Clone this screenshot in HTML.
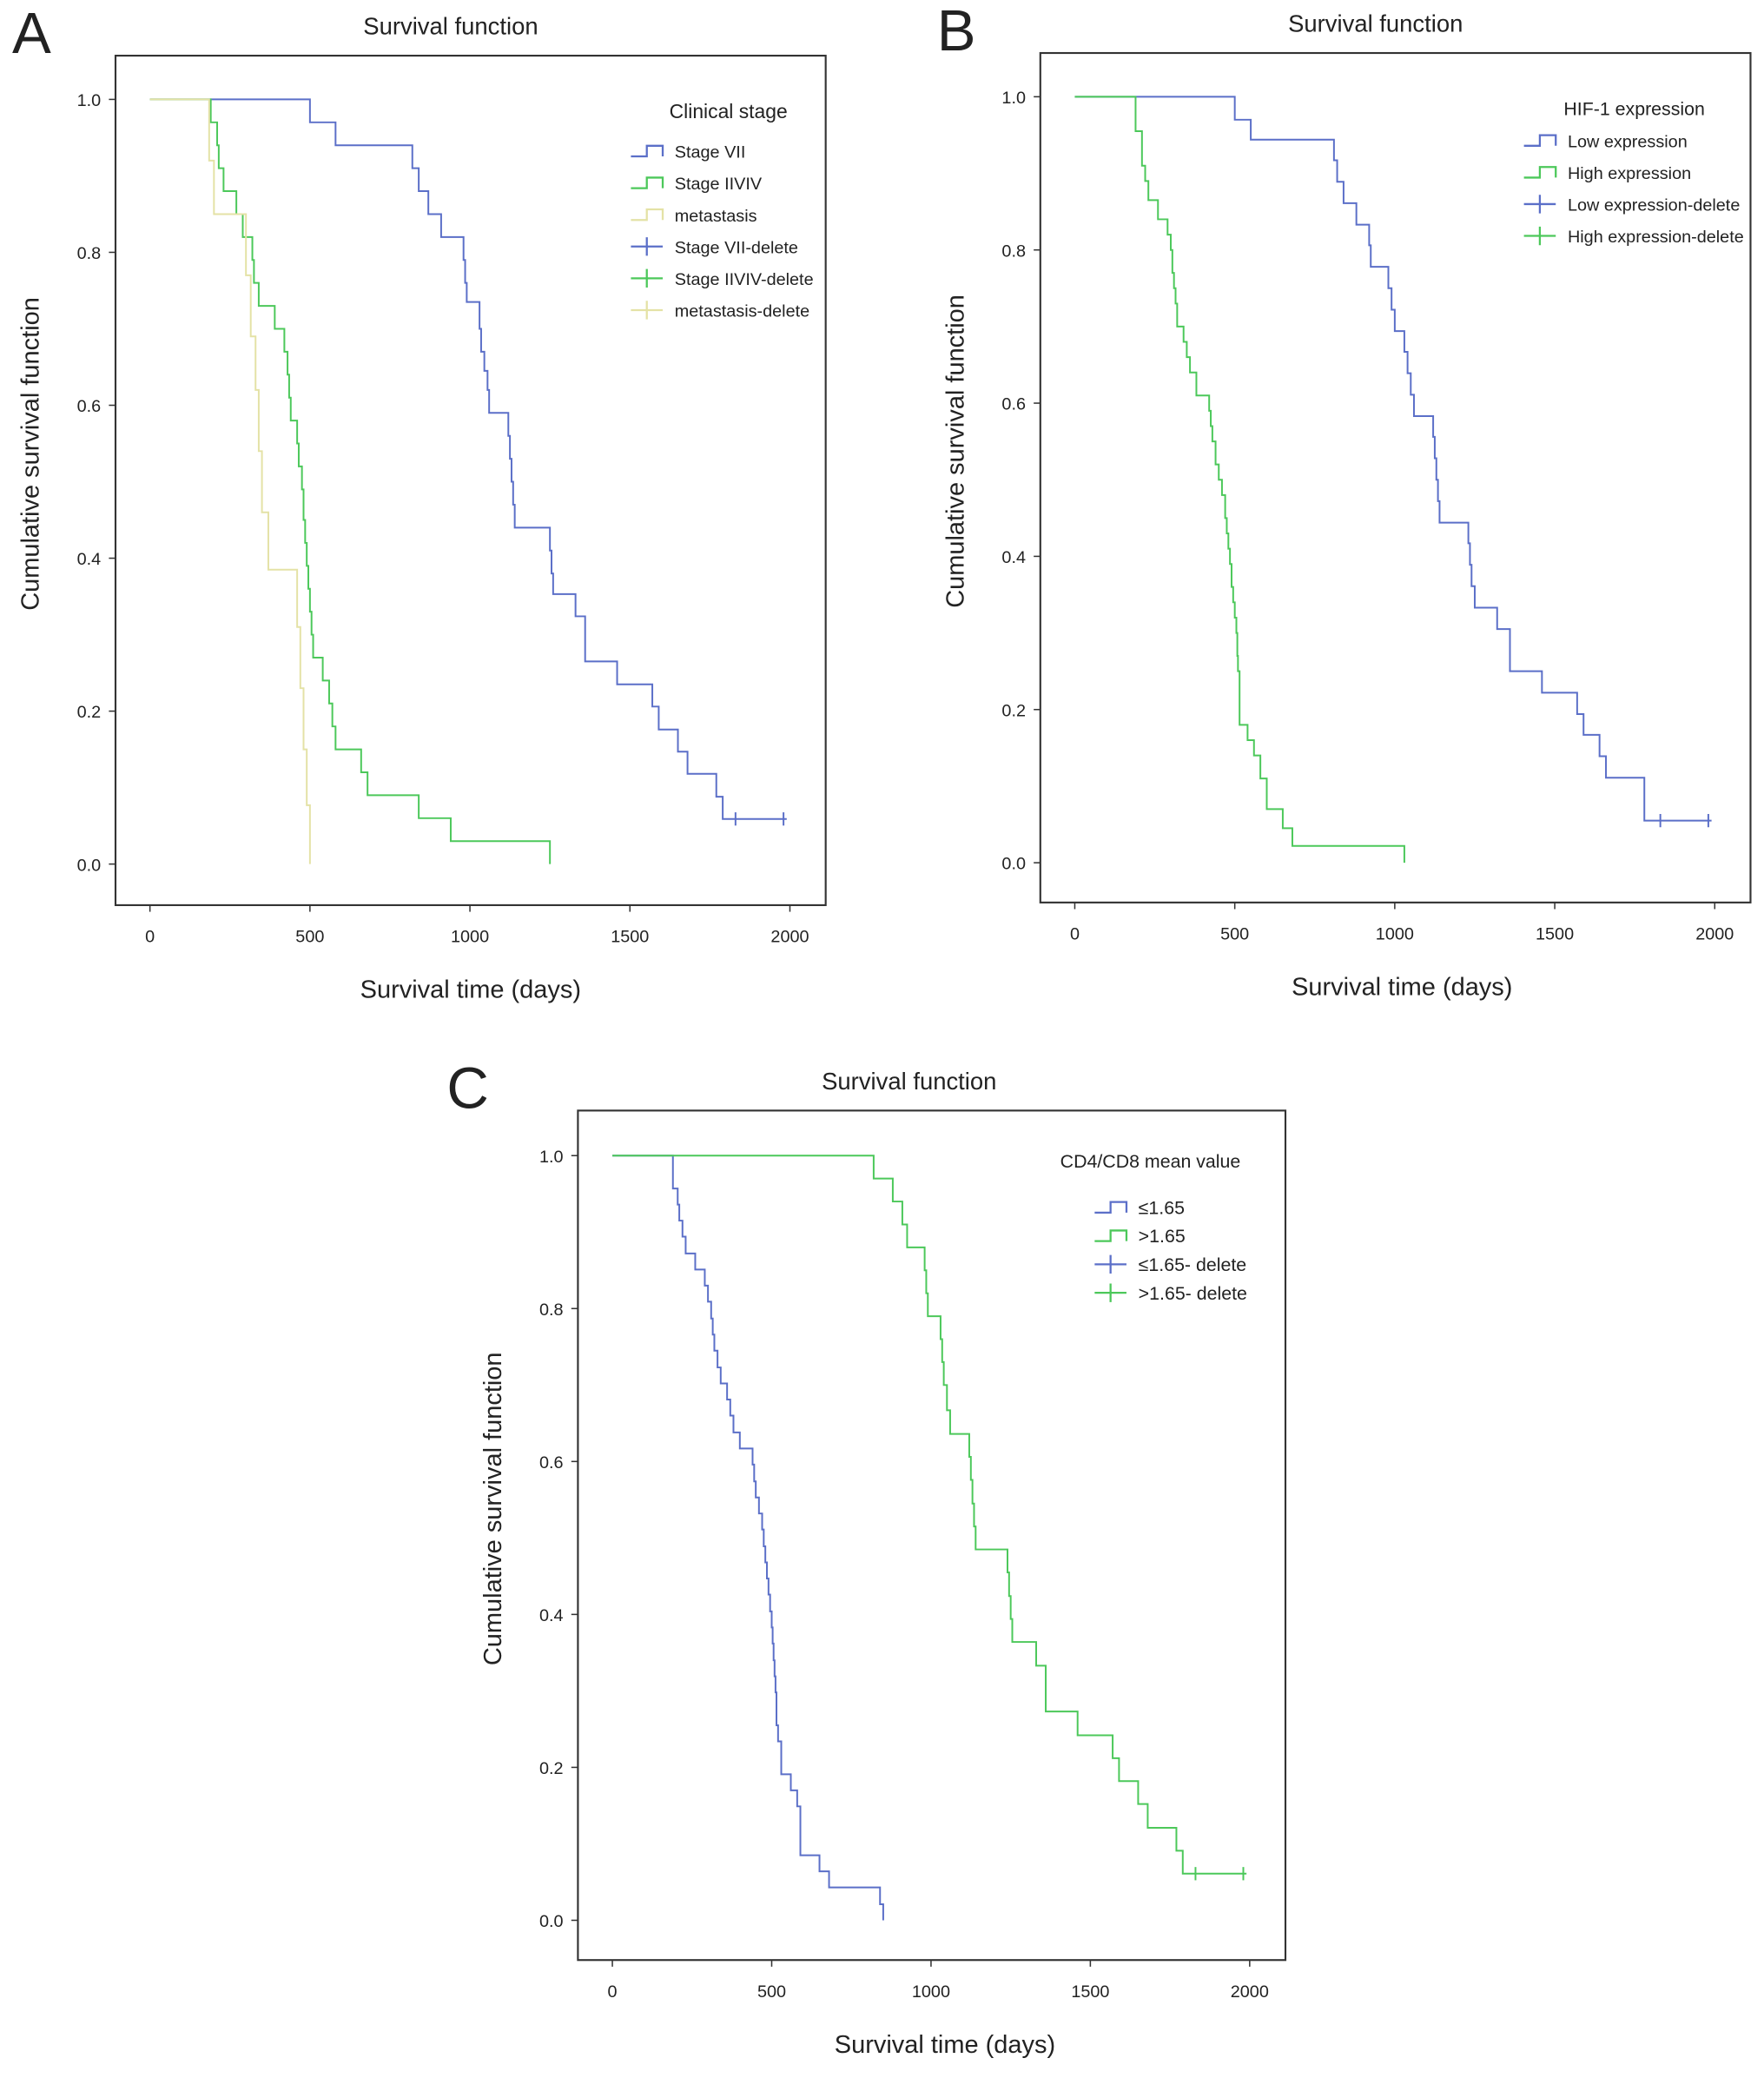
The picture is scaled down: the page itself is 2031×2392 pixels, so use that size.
<!DOCTYPE html>
<html><head><meta charset="utf-8"><style>
html,body{margin:0;padding:0;background:#fff}
svg{display:block}
text{font-family:"Liberation Sans",Arial,sans-serif;fill:#222}
</style></head><body>
<svg id="fig" width="2031" height="2392" viewBox="0 0 1331 1568" xmlns="http://www.w3.org/2000/svg"></svg>
<script>
// ---- Panel A data ----
const aStageVIITimes=[500,580,820,840,870,910,980,985,990,1030,1035,1045,1055,1060,1120,1125,1130,1135,1140,1250,1255,1260,1330,1360,1460,1570,1590,1650,1680,1770,1790];
const aStageVIISurv=[0.97,0.94,0.91,0.88,0.85,0.82,0.79,0.76,0.735,0.70,0.67,0.645,0.62,0.59,0.56,0.53,0.50,0.47,0.44,0.41,0.38,0.353,0.324,0.265,0.235,0.206,0.176,0.147,0.118,0.088,0.059];
const aStageVIIEnd=1990;
const aStageVIICens=[1830,1980];
const aStageIIVIVTimes=[190,210,215,230,270,290,320,325,340,390,420,430,435,440,460,465,475,480,485,490,495,500,505,510,540,560,570,580,660,680,840,940,1250];
const aStageIIVIVSurv=[0.97,0.94,0.91,0.88,0.85,0.82,0.79,0.76,0.73,0.70,0.67,0.64,0.61,0.58,0.55,0.52,0.49,0.45,0.42,0.39,0.36,0.33,0.30,0.27,0.24,0.21,0.18,0.15,0.12,0.09,0.06,0.03,0];
const aMetaTimes=[185,200,300,315,330,340,350,370,460,470,480,490,500];
const aMetaSurv=[0.92,0.85,0.77,0.69,0.62,0.54,0.46,0.385,0.31,0.23,0.15,0.077,0];
// ---- Panel B data ----
const bLowTimes=[500,550,810,820,840,880,920,925,980,990,1000,1030,1040,1050,1060,1120,1125,1130,1135,1140,1230,1235,1240,1250,1320,1360,1460,1570,1590,1640,1660,1780];
const bLowSurv=[0.97,0.944,0.917,0.889,0.861,0.833,0.806,0.778,0.75,0.722,0.694,0.667,0.639,0.611,0.583,0.556,0.528,0.50,0.472,0.444,0.417,0.389,0.361,0.333,0.305,0.25,0.222,0.194,0.167,0.139,0.111,0.055];
const bLowEnd=1990;
const bLowCens=[1830,1980];
const bHighTimes=[190,210,220,230,260,290,300,305,310,315,320,340,350,360,380,420,425,430,440,450,460,470,475,480,485,490,495,500,505,508,510,515,540,560,580,600,650,680,1030];
const bHighSurv=[0.955,0.91,0.89,0.865,0.84,0.82,0.80,0.77,0.75,0.73,0.70,0.68,0.66,0.64,0.61,0.59,0.57,0.55,0.52,0.50,0.48,0.45,0.43,0.41,0.39,0.36,0.34,0.32,0.30,0.27,0.25,0.18,0.16,0.14,0.11,0.07,0.045,0.022,0];
// ---- Panel C data ----
const cLowTimes=[190,205,210,220,230,260,290,300,310,315,320,330,340,360,370,380,400,440,445,450,460,470,475,480,485,490,495,500,503,506,509,512,515,520,530,560,580,590,650,680,840,850];
const cLowSurv=[0.957,0.936,0.915,0.894,0.872,0.851,0.830,0.809,0.787,0.766,0.745,0.723,0.702,0.681,0.660,0.638,0.617,0.596,0.574,0.553,0.532,0.511,0.489,0.468,0.447,0.426,0.404,0.383,0.362,0.340,0.319,0.298,0.255,0.234,0.191,0.170,0.149,0.085,0.064,0.043,0.021,0];
const cHighTimes=[820,880,910,925,980,985,990,1030,1035,1040,1050,1060,1120,1125,1130,1135,1140,1240,1245,1250,1255,1330,1360,1460,1570,1590,1650,1680,1770,1790];
const cHighSurv=[0.97,0.94,0.91,0.88,0.85,0.82,0.79,0.76,0.73,0.70,0.667,0.636,0.606,0.576,0.545,0.515,0.485,0.455,0.424,0.394,0.364,0.333,0.273,0.242,0.212,0.182,0.152,0.121,0.091,0.061];
const cHighEnd=1990;
const cHighCens=[1830,1980];
const xTicks=[0,500,1000,1500,2000];
const yTicks=[0,0.2,0.4,0.6,0.8,1.0];

const NS='http://www.w3.org/2000/svg';
const svg=document.getElementById('fig');
const BLUE='#5b6fc8',GREEN='#4cc85a',YEL='#e4e2a6';
function mk(tag,attrs,parent){const e=document.createElementNS(NS,tag);for(const k in attrs)e.setAttribute(k,attrs[k]);(parent||svg).appendChild(e);return e;}
function txt(x,y,s,size,anchor,parent,extra){const t=mk('text',Object.assign({x:x,y:y,'font-size':size,'text-anchor':anchor||'start'},extra||{}),parent);t.textContent=s;return t;}

function panel(p){
  const g=mk('g',{});
  
  
  const sx=v=>p.x0+(v/2000)*(p.x2000-p.x0);
  const sy=v=>p.y0-v*(p.y0-p.y1);
  const fr=mk('rect',{x:p.fl,y:p.ft,width:p.fr-p.fl,height:p.fb-p.ft,fill:'none',stroke:'#333','stroke-width':1.4},g);
  
  
  const lt=txt(p.fl-78+(p.letterDx||0),p.ft-2,p.letter,44,'start',g);
  
  
  const tt=txt((p.fl+p.fr)/2-(p.titleDx||0),p.ft-16,'Survival function',18,'middle',g);
  
  
  xTicks.forEach(v=>{
    mk('line',{x1:sx(v),x2:sx(v),y1:p.fb,y2:p.fb+5,stroke:'#333'},g);
    const t=txt(sx(v),p.fb+28,String(v),13,'middle',g);
    
    
  });
  yTicks.forEach(v=>{
    mk('line',{x1:p.fl-5,x2:p.fl,y1:sy(v),y2:sy(v),stroke:'#333'},g);
    const t=txt(p.fl-11,sy(v)+5,v.toFixed(1),13,'end',g);
    
    
  });
  const xl=txt((p.fl+p.fr)/2+p.xlDx,p.fb+70,'Survival time (days)',19,'middle',g);
  
  
  const yx=p.fl-58,yy=(p.ft+p.fb)/2-20;
  const yl=txt(yx,yy,'Cumulative survival function',19,'middle',g,{transform:'rotate(-90 '+yx+' '+yy+')'});
  
  
  p.series.forEach(s=>{
    let d='M'+sx(0)+','+sy(1);let prev=1;
    s.times.forEach((t,i)=>{d+=' H'+sx(t)+' V'+sy(s.surv[i]);prev=s.surv[i];});
    if(s.end)d+=' H'+sx(s.end);
    const path=mk('path',{d:d,fill:'none',stroke:s.color,'stroke-width':1.3},g);
    
    
    (s.cens||[]).forEach(c=>{
      const m=mk('line',{x1:sx(c),x2:sx(c),y1:sy(prev)-5,y2:sy(prev)+5,stroke:s.color,'stroke-width':1.3},g);
      
      
    });
  });
  const L=p.legend;
  const lg=txt(L.tx,L.ty,L.title,L.tsize,'start',g);
  
  
  L.items.forEach((it,i)=>{
    const y=L.y0+i*L.dy,x=L.sx;
    if(it.kind==='step'){mk('path',{d:`M${x},${y+4} H${x+12} V${y-4} H${x+24} V${y+4}`,fill:'none',stroke:it.color,'stroke-width':1.5},g);}
    else{mk('path',{d:`M${x},${y} H${x+24} M${x+12},${y-7} V${y+7}`,fill:'none',stroke:it.color,'stroke-width':1.5},g);}
    const t=txt(x+33,y+5,it.label,L.size,'start',g);
    
    
  });
}

panel({name:'panel-a',letter:'A',fl:87,fr:623,ft:42,fb:683,x0:113,x2000:596,y0:652,y1:75,xlDx:0,letterDx:0,titleDx:15,
 series:[{name:'stage-vii-curve',times:aStageVIITimes,surv:aStageVIISurv,end:aStageVIIEnd,cens:aStageVIICens,color:BLUE},
  {name:'stage-iiviv-curve',times:aStageIIVIVTimes,surv:aStageIIVIVSurv,color:GREEN},
  {name:'metastasis-curve',times:aMetaTimes,surv:aMetaSurv,color:YEL}],
 legend:{title:'Clinical stage',tx:505,ty:89,tsize:15,sx:476,y0:114,dy:24,size:13,items:[
  {kind:'step',color:BLUE,label:'Stage VII'},{kind:'step',color:GREEN,label:'Stage IIVIV'},{kind:'step',color:YEL,label:'metastasis'},
  {kind:'plus',color:BLUE,label:'Stage VII-delete'},{kind:'plus',color:GREEN,label:'Stage IIVIV-delete'},{kind:'plus',color:YEL,label:'metastasis-delete'}]}});
panel({name:'panel-b',letter:'B',fl:785,fr:1321,ft:40,fb:681,x0:811,x2000:1294,y0:651,y1:73,xlDx:5,letterDx:0,titleDx:15,
 series:[{name:'low-expression-curve',times:bLowTimes,surv:bLowSurv,end:bLowEnd,cens:bLowCens,color:BLUE},
  {name:'high-expression-curve',times:bHighTimes,surv:bHighSurv,color:GREEN}],
 legend:{title:'HIF-1 expression',tx:1180,ty:87,tsize:14,sx:1150,y0:106,dy:24,size:13,items:[
  {kind:'step',color:BLUE,label:'Low expression'},{kind:'step',color:GREEN,label:'High expression'},
  {kind:'plus',color:BLUE,label:'Low expression-delete'},{kind:'plus',color:GREEN,label:'High expression-delete'}]}});
panel({name:'panel-c',letter:'C',fl:436,fr:970,ft:838,fb:1479,x0:462,x2000:943,y0:1449,y1:872,xlDx:10,letterDx:-21,titleDx:17,
 series:[{name:'le-1.65-curve',times:cLowTimes,surv:cLowSurv,color:BLUE},
  {name:'gt-1.65-curve',times:cHighTimes,surv:cHighSurv,end:cHighEnd,cens:cHighCens,color:GREEN}],
 legend:{title:'CD4/CD8 mean value',tx:800,ty:881,tsize:14,sx:826,y0:911,dy:21.5,size:14,items:[
  {kind:'step',color:BLUE,label:'≤1.65'},{kind:'step',color:GREEN,label:'>1.65'},
  {kind:'plus',color:BLUE,label:'≤1.65- delete'},{kind:'plus',color:GREEN,label:'>1.65- delete'}]}});
</script>
</body></html>
